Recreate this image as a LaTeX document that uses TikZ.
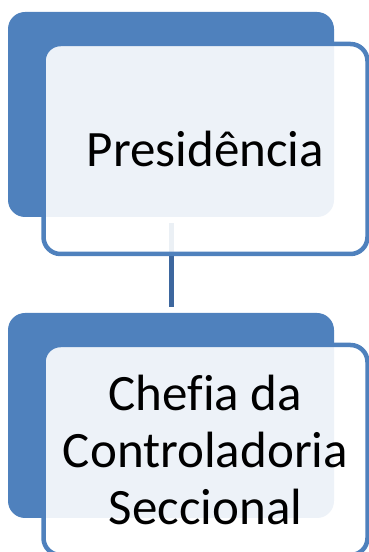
\documentclass[tikz,border=0pt]{standalone}
\usepackage{fontspec}
\setmainfont{Carlito}[Ligatures=NoCommon]
\definecolor{boxblue}{RGB}{79,129,189}
\definecolor{linkblue}{RGB}{61,103,158}
\tikzset{
	backbox/.style={rectangle, rounded corners=17pt, fill=boxblue, minimum width=326pt, minimum height=205pt, inner sep=0pt},
	frontbox/.style={rectangle, rounded corners=17pt, draw=boxblue, line width=4.5pt, fill=white, fill opacity=.9, text opacity=1, minimum width=324pt, minimum height=210pt, inner sep=0pt, align=center, font=\fontsize{51}{57}\selectfont},
	link/.style={draw=linkblue, line width=5pt, shorten <=6pt, shorten >=6pt}
}
\begin{document}
\begin{tikzpicture}[x=1pt, y=1pt]
	\useasboundingbox (0,0) rectangle (369,552);
	\clip (0,0) rectangle (369,552);
	\node [backbox] (presback) at (171,437.5) {};
	\node [backbox] (chefback) at (171,136.5) {};
	\draw [link] (presback.south) -- (chefback.north);
	\node [frontbox] (pres) at (205.5,403) {Presidência};
	\node [frontbox] (chef) at (205.5,102) {Chefia da\\Controladoria\\Seccional};
\end{tikzpicture}
\end{document}
